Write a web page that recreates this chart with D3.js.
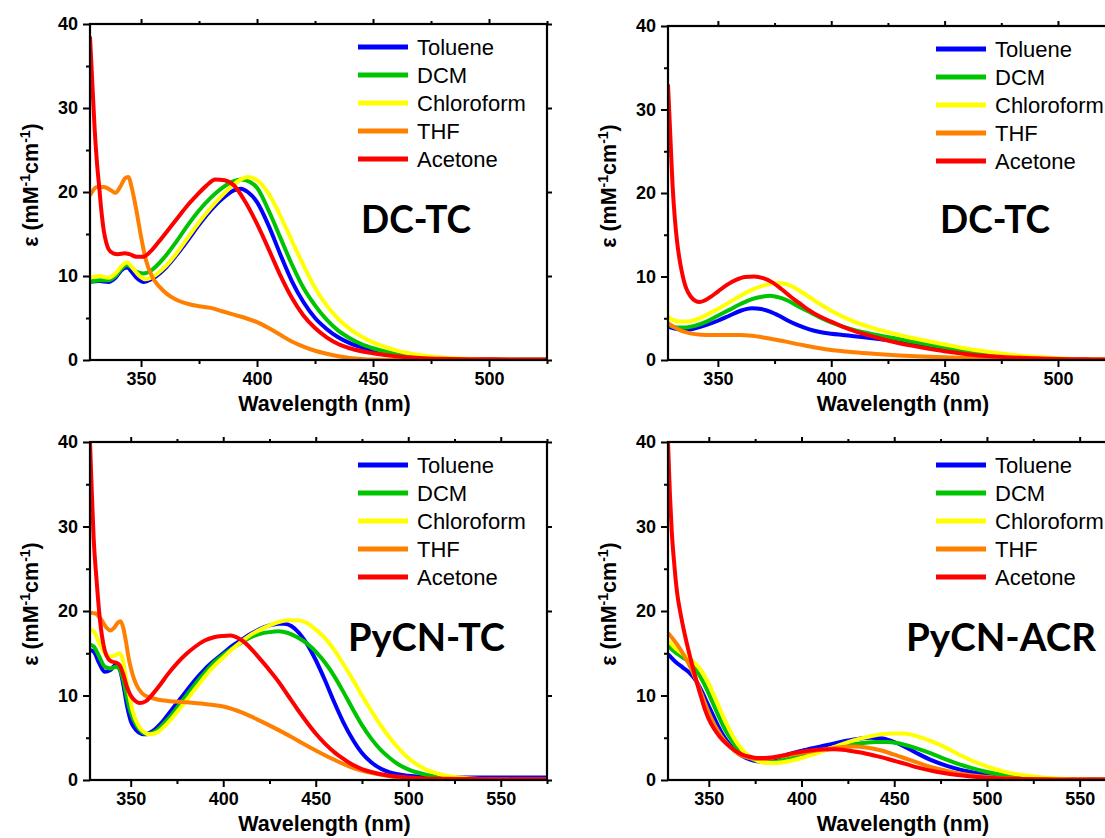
<!DOCTYPE html>
<html>
<head>
<meta charset="utf-8">
<script src="https://cdn.jsdelivr.net/npm/d3@7"></script>
<style>
  html, body { margin: 0; padding: 0; background: #fff; overflow: hidden; }
  svg { display: block; }
</style>
</head>
<body>
<svg id="chart" width="1105" height="838"></svg>
<script>
// ---------------- DATA ----------------
const seriesNames = ["Toluene", "DCM", "Chloroform", "THF", "Acetone"];
const seriesColors = ["#0000ff", "#00c400", "#ffff00", "#ff8000", "#ff0000"];
const yTicks = [0, 10, 20, 30, 40];
const xTicksTop = [350, 400, 450, 500];
const xTicksBottom = [350, 400, 450, 500, 550];
const panelLabels = ["DC-TC", "DC-TC", "PyCN-TC", "PyCN-ACR"];
const xAxisTitle = "Wavelength (nm)";

// Panel 1 (top-left, DC-TC)
const p1_Toluene = [[328,9.3],[332,9.4],[336,9.3],[339,9.8],[342,10.8],[344,11.0],[346,10.5],[348,9.8],[351,9.3],[355,9.7],[360,10.8],[365,12.4],[370,14.2],[375,16.1],[380,17.8],[385,19.2],[390,20.2],[393,20.4],[396,20.0],[400,18.8],[405,16.0],[410,12.6],[415,9.4],[420,6.9],[425,5.0],[430,3.7],[435,2.7],[440,2.0],[445,1.5],[450,1.1],[460,0.55],[470,0.3],[480,0.15],[500,0.05],[525,0.03]];
const p1_DCM = [[328,9.3],[332,9.5],[336,9.5],[339,10.0],[342,11.0],[344,11.3],[346,11.0],[348,10.5],[351,10.3],[355,10.8],[360,12.2],[365,14.0],[370,16.0],[375,17.8],[380,19.3],[385,20.5],[390,21.3],[393,21.5],[397,21.2],[400,20.5],[405,17.8],[410,14.6],[415,11.4],[420,8.6],[425,6.5],[430,4.8],[435,3.5],[440,2.6],[445,1.9],[450,1.4],[460,0.7],[470,0.35],[480,0.18],[500,0.05],[525,0.03]];
const p1_Chloroform = [[328,9.8],[332,10.0],[336,9.8],[339,10.3],[342,11.3],[344,11.6],[346,11.1],[349,10.1],[352,9.6],[355,9.9],[360,11.0],[365,12.6],[370,14.5],[375,16.4],[380,18.1],[385,19.6],[390,20.9],[393,21.5],[396,21.8],[400,21.4],[405,19.8],[410,17.2],[415,14.2],[420,11.3],[425,8.6],[430,6.5],[435,4.9],[440,3.7],[445,2.8],[450,2.1],[460,1.15],[470,0.6],[480,0.3],[490,0.15],[500,0.07],[525,0.03]];
const p1_THF = [[328,19.6],[331,20.6],[334,20.6],[337,20.2],[339,19.9],[341,20.6],[343,21.6],[344.5,21.8],[346,20.5],[348,17.8],[350,14.7],[352,12.0],[355,9.8],[358,8.7],[361,7.9],[365,7.2],[370,6.7],[375,6.4],[380,6.2],[385,5.8],[390,5.4],[395,5.0],[400,4.5],[405,3.8],[410,3.0],[415,2.2],[420,1.6],[425,1.1],[430,0.75],[435,0.45],[440,0.25],[445,0.12],[450,0.05],[460,0.02],[525,0.0]];
const p1_Acetone = [[328,38.5],[329,33],[330,27.5],[331,23.5],[332,20.5],[333,17.5],[334,15.3],[335,14],[336,13.2],[338,12.7],[340,12.6],[343,12.7],[345,12.6],[348,12.3],[351,12.3],[354,12.9],[358,14.2],[362,15.6],[366,17.0],[370,18.4],[374,19.6],[378,20.7],[382,21.5],[386,21.4],[390,20.8],[395,18.8],[400,16.2],[405,13.2],[410,10.1],[415,7.4],[420,5.3],[425,3.8],[430,2.7],[435,1.9],[440,1.4],[450,0.8],[460,0.45],[470,0.25],[480,0.15],[500,0.08],[525,0.05]];

// Panel 2 (top-right, DC-TC)
const p2_Toluene = [[328,4.0],[332,3.7],[336,3.6],[340,3.8],[345,4.2],[350,4.7],[355,5.3],[360,5.9],[365,6.2],[369,6.1],[373,5.8],[377,5.3],[381,4.7],[385,4.2],[390,3.7],[395,3.35],[400,3.15],[405,3.0],[410,2.85],[420,2.55],[430,2.2],[440,1.8],[450,1.35],[460,0.95],[470,0.6],[480,0.38],[490,0.22],[500,0.12],[515,0.05],[530,0.03]];
const p2_DCM = [[328,4.2],[332,3.9],[336,3.9],[340,4.1],[345,4.6],[350,5.3],[355,6.0],[360,6.7],[365,7.3],[370,7.6],[373,7.7],[377,7.5],[381,7.1],[385,6.5],[390,5.8],[395,5.1],[400,4.5],[405,4.0],[410,3.6],[420,3.0],[430,2.5],[440,2.0],[450,1.5],[460,1.05],[470,0.7],[480,0.45],[490,0.27],[500,0.15],[515,0.07],[530,0.03]];
const p2_Chloroform = [[328,5.2],[330,4.8],[333,4.6],[337,4.6],[341,4.9],[345,5.4],[350,6.1],[355,6.9],[360,7.7],[365,8.4],[370,8.9],[375,9.2],[378,9.2],[382,8.9],[386,8.3],[390,7.6],[395,6.7],[400,5.9],[405,5.2],[410,4.6],[420,3.7],[430,3.0],[440,2.4],[450,1.85],[460,1.35],[470,0.95],[480,0.6],[490,0.38],[500,0.22],[510,0.12],[520,0.06],[530,0.03]];
const p2_THF = [[328,4.4],[331,3.9],[334,3.5],[337,3.25],[340,3.1],[345,3.0],[350,3.0],[355,3.0],[360,3.0],[365,2.9],[370,2.7],[375,2.45],[380,2.2],[385,1.9],[390,1.65],[395,1.4],[400,1.2],[405,1.05],[410,0.92],[420,0.72],[430,0.55],[440,0.42],[450,0.32],[460,0.24],[470,0.17],[480,0.12],[500,0.06],[530,0.02]];
const p2_Acetone = [[328,33],[329,27],[330,21],[331,17],[332,14.2],[333,12.2],[334,10.7],[335,9.5],[336,8.6],[338,7.6],[340,7.1],[342,6.95],[344,7.1],[347,7.6],[350,8.2],[354,9.0],[358,9.6],[362,9.95],[366,10.0],[370,9.8],[374,9.3],[378,8.5],[382,7.6],[386,6.8],[390,6.0],[395,5.2],[400,4.6],[405,4.0],[410,3.5],[420,2.7],[430,2.0],[440,1.5],[450,1.05],[460,0.7],[470,0.45],[480,0.3],[490,0.2],[500,0.12],[515,0.07],[530,0.05]];

// Panel 3 (bottom-left, PyCN-TC)
const p3_Toluene = [[328,15.4],[330,15.2],[333,13.8],[336,12.8],[339,13.0],[341,13.5],[342.5,13.6],[344,13.2],[346,11.3],[348,8.8],[350,7.0],[353,5.9],[356,5.45],[358,5.4],[362,5.8],[366,6.6],[370,7.7],[375,9.1],[380,10.5],[385,11.9],[390,13.1],[395,14.1],[400,15.0],[405,15.9],[410,16.6],[415,17.3],[420,17.9],[425,18.3],[430,18.5],[433,18.5],[437,18.2],[441,17.4],[445,16.2],[450,14.2],[455,11.8],[460,9.2],[465,6.8],[470,4.8],[475,3.2],[480,2.1],[485,1.35],[490,0.9],[500,0.5],[510,0.35],[530,0.3],[575,0.3]];
const p3_DCM = [[328,16.0],[330,15.8],[333,14.6],[336,13.4],[339,13.2],[342,13.4],[344,13.1],[346,11.8],[348,9.7],[350,8.0],[353,6.5],[356,5.7],[359,5.45],[363,5.7],[367,6.5],[372,7.7],[378,9.4],[385,11.4],[390,12.7],[395,13.9],[400,14.8],[405,15.6],[410,16.3],[415,16.9],[420,17.3],[425,17.5],[430,17.6],[435,17.4],[440,16.9],[445,16.2],[450,15.2],[455,13.9],[460,12.3],[465,10.4],[470,8.4],[475,6.5],[480,4.9],[485,3.6],[490,2.6],[495,1.8],[500,1.25],[510,0.6],[520,0.3],[530,0.15],[545,0.08],[575,0.05]];
const p3_Chloroform = [[328,17.8],[330,17.6],[333,16.2],[336,15.0],[339,14.6],[342,14.8],[344,15.0],[345.5,14.4],[347,12.6],[349,10.3],[351,8.2],[354,6.5],[357,5.7],[360,5.4],[364,5.6],[368,6.3],[373,7.5],[380,9.4],[387,11.4],[393,13.0],[400,14.5],[405,15.5],[410,16.4],[415,17.2],[420,17.8],[425,18.3],[430,18.7],[435,18.9],[440,18.9],[445,18.6],[450,17.8],[455,16.8],[460,15.4],[465,13.7],[470,11.9],[475,10.0],[480,8.2],[485,6.5],[490,5.0],[495,3.7],[500,2.6],[505,1.8],[510,1.2],[520,0.55],[530,0.25],[540,0.12],[555,0.05],[575,0.03]];
const p3_THF = [[328,19.8],[331,19.7],[334,19.0],[337,18.0],[339,17.7],[341,18.0],[343,18.6],[344.5,18.8],[346,18.0],[347.5,16.3],[349,14.3],[351,12.5],[353,11.3],[356,10.3],[360,9.8],[365,9.5],[370,9.35],[380,9.2],[390,9.0],[400,8.7],[410,8.0],[420,7.0],[430,5.9],[440,4.7],[450,3.5],[460,2.4],[470,1.45],[480,0.85],[490,0.45],[500,0.22],[510,0.1],[525,0.04],[575,0.02]];
const p3_Acetone = [[328,40],[329,34],[330,28.5],[331.5,23.8],[333,19.8],[334.5,17.0],[336,15.3],[338,14.3],[340,14.0],[342,13.9],[344,13.6],[346,12.5],[348,11.0],[350,10.0],[352.5,9.35],[355,9.1],[358,9.3],[362,10.2],[366,11.3],[370,12.5],[375,13.8],[380,14.9],[385,15.8],[390,16.5],[395,16.9],[400,17.05],[404,17.1],[408,16.8],[412,16.2],[416,15.3],[420,14.3],[425,13.0],[430,11.6],[435,10.0],[440,8.4],[445,6.9],[450,5.5],[455,4.3],[460,3.3],[465,2.5],[470,1.8],[475,1.3],[480,0.95],[490,0.5],[500,0.3],[515,0.15],[575,0.08]];

// Panel 4 (bottom-right, PyCN-ACR)
const p4_Toluene = [[328,14.9],[332,14.0],[336,13.3],[340,12.6],[343,11.8],[346,10.6],[349,9.2],[352,7.8],[355,6.4],[358,5.2],[362,4.0],[366,3.1],[370,2.6],[374,2.3],[378,2.2],[382,2.3],[386,2.55],[390,2.85],[400,3.45],[410,3.95],[420,4.45],[430,4.85],[437,5.0],[443,4.95],[448,4.65],[455,4.0],[462,3.2],[470,2.35],[478,1.7],[486,1.2],[494,0.85],[502,0.55],[512,0.33],[525,0.18],[540,0.09],[575,0.04]];
const p4_DCM = [[328,15.9],[332,15.1],[336,14.5],[340,13.9],[343,13.1],[346,12.0],[349,10.7],[352,9.2],[355,7.7],[358,6.3],[362,4.8],[366,3.6],[370,2.9],[374,2.45],[378,2.2],[382,2.1],[386,2.15],[390,2.35],[400,2.85],[410,3.4],[420,3.9],[430,4.3],[440,4.5],[446,4.5],[452,4.35],[460,3.9],[468,3.3],[476,2.6],[484,1.95],[492,1.4],[500,0.95],[510,0.55],[520,0.3],[535,0.13],[555,0.05],[575,0.03]];
const p4_Chloroform = [[328,16.5],[332,15.6],[336,14.9],[340,14.3],[343,13.7],[346,12.9],[349,11.8],[352,10.4],[355,8.9],[358,7.4],[361,6.0],[364,4.8],[368,3.6],[372,2.8],[376,2.3],[380,2.05],[385,2.0],[390,2.1],[400,2.6],[410,3.3],[420,4.1],[430,4.8],[440,5.3],[448,5.5],[455,5.5],[462,5.2],[470,4.6],[478,3.8],[486,2.9],[494,2.1],[502,1.45],[510,0.95],[520,0.55],[530,0.3],[540,0.16],[555,0.07],[575,0.03]];
const p4_THF = [[328,17.4],[331,16.6],[334,15.7],[337,14.6],[340,13.4],[343,11.9],[346,10.2],[349,8.5],[352,7.0],[355,5.8],[358,4.8],[362,3.8],[366,3.1],[370,2.7],[375,2.5],[380,2.5],[385,2.65],[390,2.85],[400,3.2],[410,3.55],[420,3.85],[428,3.95],[435,3.85],[442,3.55],[450,3.0],[458,2.4],[466,1.8],[474,1.3],[482,0.9],[490,0.6],[500,0.35],[510,0.2],[525,0.1],[545,0.04],[575,0.02]];
const p4_Acetone = [[328,40],[329,34],[330,29.5],[331,26.5],[332,24],[333,22],[334.5,20],[336,18.3],[338,16.3],[340,14.5],[342,12.8],[344,11.2],[346,9.7],[348,8.3],[350,7.2],[353,6.0],[356,5.1],[360,4.2],[364,3.5],[368,3.0],[372,2.75],[376,2.6],[380,2.6],[385,2.7],[390,2.9],[395,3.15],[400,3.35],[405,3.5],[410,3.6],[418,3.65],[425,3.5],[432,3.25],[440,2.85],[448,2.4],[456,1.9],[464,1.4],[472,1.0],[480,0.7],[490,0.45],[500,0.28],[515,0.15],[530,0.08],[575,0.04]];

// ---------------- LAYOUT ----------------
const panels = [
  { x0: 90,  x1: 547,  y0: 24,  y1: 360, domain: [328, 525], ticks: xTicksTop,    label: panelLabels[0], labelX: 361, labelY: 233, labelW: 110,
    series: [p1_Toluene, p1_DCM, p1_Chloroform, p1_THF, p1_Acetone] },
  { x0: 668, x1: 1126, y0: 26,  y1: 360, domain: [328, 530], ticks: xTicksTop,    label: panelLabels[1], labelX: 940, labelY: 233, labelW: 110,
    series: [p2_Toluene, p2_DCM, p2_Chloroform, p2_THF, p2_Acetone] },
  { x0: 90,  x1: 547,  y0: 442, y1: 780, domain: [328, 575], ticks: xTicksBottom, label: panelLabels[2], labelX: 348, labelY: 651, labelW: 157,
    series: [p3_Toluene, p3_DCM, p3_Chloroform, p3_THF, p3_Acetone] },
  { x0: 668, x1: 1126, y0: 442, y1: 780, domain: [328, 575], ticks: xTicksBottom, label: panelLabels[3], labelX: 906, labelY: 651, labelW: 190,
    series: [p4_Toluene, p4_DCM, p4_Chloroform, p4_THF, p4_Acetone] }
];

const svg = d3.select("#chart");
const tickFont = "'Liberation Sans', Arial, sans-serif";

panels.forEach((p, pi) => {
  const x = d3.scaleLinear().domain(p.domain).range([p.x0, p.x1]);
  const y = d3.scaleLinear().domain([0, 40]).range([p.y1, p.y0]);
  const g = svg.append("g");

  const clipId = "clip" + pi;
  svg.append("clipPath").attr("id", clipId)
    .append("rect").attr("x", p.x0).attr("y", p.y0 - 1)
    .attr("width", p.x1 - p.x0).attr("height", p.y1 - p.y0 + 1);

  // minor tick values (midpoints between majors)
  const xMinor = [];
  for (let v = p.ticks[0] - 25; v <= p.domain[1]; v += 50) if (v >= p.domain[0]) xMinor.push(v);
  const yMinor = [5, 15, 25, 35];

  // curves
  const line = d3.line().x(d => x(d[0])).y(d => y(d[1])).curve(d3.curveMonotoneX);
  const cg = g.append("g").attr("clip-path", `url(#${clipId})`);
  p.series.forEach((s, i) => {
    cg.append("path").datum(s).attr("d", line)
      .attr("fill", "none").attr("stroke", seriesColors[i])
      .attr("stroke-width", 4).attr("stroke-linejoin", "round");
  });

  // axes
  const styleAxis = (ax) => {
    ax.select(".domain").remove();
    ax.selectAll("line").attr("stroke", "#000").attr("stroke-width", 2);
    ax.selectAll("text").attr("font-family", tickFont).attr("font-weight", "bold")
      .attr("font-size", 18).attr("fill", "#000");
  };
  const bottom = g.append("g").attr("transform", `translate(0,${p.y1})`)
    .call(d3.axisBottom(x).tickValues(p.ticks).tickSize(7).tickPadding(5).tickFormat(d3.format("d")));
  styleAxis(bottom);
  const bottomMinor = g.append("g").attr("transform", `translate(0,${p.y1})`)
    .call(d3.axisBottom(x).tickValues(xMinor).tickSize(4).tickFormat(""));
  styleAxis(bottomMinor);
  const top = g.append("g").attr("transform", `translate(0,${p.y0})`)
    .call(d3.axisTop(x).tickValues(p.ticks).tickSize(5).tickFormat(""));
  styleAxis(top);
  const topMinor = g.append("g").attr("transform", `translate(0,${p.y0})`)
    .call(d3.axisTop(x).tickValues(xMinor).tickSize(3).tickFormat(""));
  styleAxis(topMinor);

  const left = g.append("g").attr("transform", `translate(${p.x0},0)`)
    .call(d3.axisLeft(y).tickValues(yTicks).tickSize(7).tickPadding(5).tickFormat(d3.format("d")));
  styleAxis(left);
  const leftMinor = g.append("g").attr("transform", `translate(${p.x0},0)`)
    .call(d3.axisLeft(y).tickValues(yMinor).tickSize(4).tickFormat(""));
  styleAxis(leftMinor);
  const right = g.append("g").attr("transform", `translate(${p.x1},0)`)
    .call(d3.axisRight(y).tickValues(yTicks).tickSize(5).tickFormat(""));
  styleAxis(right);

  // frame
  g.append("rect").attr("x", p.x0).attr("y", p.y0)
    .attr("width", p.x1 - p.x0).attr("height", p.y1 - p.y0)
    .attr("fill", "none").attr("stroke", "#000").attr("stroke-width", 2.2);

  // axis titles
  g.append("text").attr("x", (p.x0 + p.x1) / 2 + 6).attr("y", p.y1 + 51)
    .attr("text-anchor", "middle").attr("font-family", tickFont)
    .attr("font-weight", "bold").attr("font-size", 21.5).text(xAxisTitle);

  const yl = g.append("text")
    .attr("transform", `translate(${p.x0 - 52},${(p.y0 + p.y1) / 2 - 7}) rotate(-90)`)
    .attr("text-anchor", "middle").attr("font-family", tickFont)
    .attr("font-weight", "bold").attr("font-size", 21.5);
  yl.append("tspan").text("ε (mM");
  yl.append("tspan").attr("dy", -8).attr("font-size", 14).text("-1");
  yl.append("tspan").attr("dy", 8).text("cm");
  yl.append("tspan").attr("dy", -8).attr("font-size", 14).text("-1");
  yl.append("tspan").attr("dy", 8).text(")");

  // legend
  seriesNames.forEach((name, i) => {
    const ly = p.y0 + 23 + 28 * i;
    g.append("line").attr("x1", p.x0 + 268).attr("x2", p.x0 + 318)
      .attr("y1", ly).attr("y2", ly).attr("stroke", seriesColors[i]).attr("stroke-width", 5);
    g.append("text").attr("x", p.x0 + 327).attr("y", ly + 8)
      .attr("font-family", tickFont).attr("font-size", 22).attr("fill", "#000").text(name);
  });

  // panel label
  g.append("text").attr("x", p.labelX).attr("y", p.labelY)
    .attr("font-family", "Lato, 'Open Sans', sans-serif").attr("font-weight", "bold")
    .attr("font-size", 39).attr("textLength", p.labelW).attr("lengthAdjust", "spacingAndGlyphs")
    .attr("fill", "#000").text(p.label);
});
</script>
</body>
</html>
